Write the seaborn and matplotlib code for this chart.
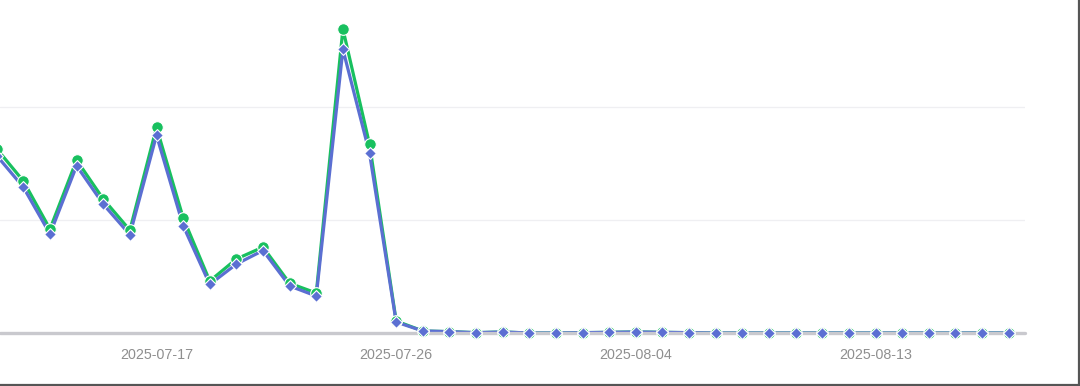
import matplotlib
matplotlib.use("Agg")
import matplotlib.pyplot as plt
import matplotlib.dates as mdates
from matplotlib.lines import Line2D
import seaborn as sns
import pandas as pd
import numpy as np

# ---- data ----
dates = pd.date_range("2025-07-11", "2025-08-18", freq="D")
series_green = [163, 134.5, 92, 153, 118.6, 91, 182, 102, 46, 65.5, 76, 44, 35.4, 269, 167,
                10.6, 1.8, 1.2, 0.3, 0.9, 0,
                0, 0.3, 0.6, 0.9, 0.6, 0.3, 0, 0, 0, 0, 0, 0, 0, 0, 0, 0, 0, 0]
series_blue = [157, 129, 87.6, 148, 114, 87, 175, 95, 43, 61, 73, 41.6, 32.7, 251, 159,
               9.7, 1.8, 1.2, 0.3, 0.9, 0,
               0, 0.3, 0.6, 0.9, 0.6, 0.3, 0, 0, 0, 0, 0, 0, 0, 0, 0, 0, 0, 0]
tick_dates = ["2025-07-17", "2025-07-26", "2025-08-04", "2025-08-13"]
grid_values = [100, 200, 300]

GREEN = "#18c05f"
BLUE = "#5b6fd2"

df = pd.DataFrame({"date": dates, "green": series_green, "blue": series_blue})

sns.set_theme(style="white")
plt.rcParams["font.family"] = ["Liberation Sans", "DejaVu Sans"]

W, H = 1080, 386
fig = plt.figure(figsize=(W / 100, H / 100), dpi=100)
fig.patch.set_facecolor("white")

# axes geometry in pixels
ax_left, ax_right = 0, 1025
ax_bottom_px = 333  # y pixel of zero line
px_per_unit = 1.13
ymax = 300
ax_top_px = ax_bottom_px - ymax * px_per_unit
ax = fig.add_axes([ax_left / W, (H - ax_bottom_px) / H,
                   (ax_right - ax_left) / W, (ax_bottom_px - ax_top_px) / H])
ax.set_facecolor("white")

# lines
sns.lineplot(data=df, x="date", y="green", ax=ax, color=GREEN, linewidth=2.3, zorder=2)
sns.lineplot(data=df, x="date", y="blue", ax=ax, color=BLUE, linewidth=2.3, zorder=2.1)

# gridlines
for g in grid_values:
    ax.axhline(g, color="#efeff2", linewidth=0.9, zorder=1)
# axis baseline on top of lines
ax.axhline(0, color="#c9c9ce", linewidth=2.4, zorder=3, clip_on=False)

# markers
sns.scatterplot(data=df, x="date", y="green", ax=ax, color=GREEN, marker="o", s=70,
                edgecolor="white", linewidth=0.8, zorder=4, clip_on=False)
sns.scatterplot(data=df, x="date", y="blue", ax=ax, color=BLUE, marker="D", s=36,
                edgecolor="white", linewidth=0.8, zorder=5, clip_on=False)

# x scale: ~26.6 px per day; 2025-07-17 at x=156
ref = mdates.date2num(pd.Timestamp("2025-07-17"))
ref_px = 156.5
ppd = 26.63
ax.set_xlim(ref - (ref_px - ax_left) / ppd, ref + (ax_right - ref_px) / ppd)
ax.set_ylim(0, ymax)

ax.set_xticks([mdates.date2num(pd.Timestamp(t)) for t in tick_dates])
ax.set_xticklabels(tick_dates)
ax.tick_params(axis="x", length=0, pad=11, labelsize=10.3, labelcolor="#8f8f8f")
ax.set_yticks([])
ax.set_xlabel("")
ax.set_ylabel("")
for s in ax.spines.values():
    s.set_visible(False)

# outer frame (right and bottom edges of the screenshot)
fig.add_artist(Line2D([1 - 1.5 / W, 1 - 1.5 / W], [0, 1], transform=fig.transFigure,
                      color="#555555", linewidth=1.6))
fig.add_artist(Line2D([0, 1], [1.5 / H, 1.5 / H], transform=fig.transFigure,
                      color="#555555", linewidth=1.6))

fig.savefig("out.png", dpi=100, facecolor="white")
